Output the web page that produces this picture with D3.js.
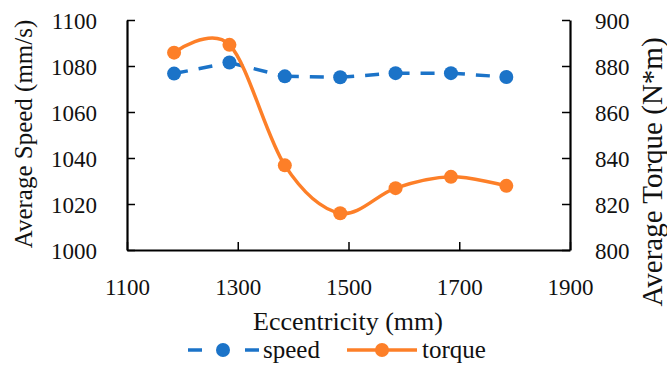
<!DOCTYPE html>
<html>
<head>
<meta charset="utf-8">
<script src="https://cdn.jsdelivr.net/npm/d3@7"></script>
<style>
  body { margin: 0; background: #fff; }
  svg { display: block; }
  svg text { font-family: 'Liberation Serif', 'DejaVu Serif', serif !important; fill: #111; }
</style>
</head>
<body>
<svg id="chart"></svg>
<script>
const eccentricity = [1185, 1285, 1385, 1485, 1585, 1685, 1785];
const speed = [1076.7, 1081.5, 1075.5, 1075.1, 1076.9, 1076.9, 1075.2];
const torque = [885.8, 889.2, 836.8, 816.0, 826.9, 831.8, 827.9];
const xTicks = [1100, 1300, 1500, 1700, 1900];
const speedTicks = [1000, 1020, 1040, 1060, 1080, 1100];
const torqueTicks = [800, 820, 840, 860, 880, 900];

const width = 667;
const height = 365;
const blue = '#1b73c8';
const orange = '#fd7f28';

const svg = d3.select('#chart')
  .attr('width', width)
  .attr('height', height);

const x = d3.scaleLinear().domain([1100, 1900]).range([127, 570]);
const ySpeed = d3.scaleLinear().domain([1000, 1100]).range([250, 20]);
const yTorque = d3.scaleLinear().domain([800, 900]).range([250, 20]);
const fmt = d3.format('d');

// axes, ticks pointing into the plot
const axisX = d3.axisBottom(x).tickValues(xTicks).tickFormat(fmt).tickSizeInner(-8).tickSizeOuter(0);
const axisL = d3.axisLeft(ySpeed).tickValues(speedTicks).tickFormat(fmt).tickSizeInner(-8).tickSizeOuter(0);
const axisR = d3.axisRight(yTorque).tickValues(torqueTicks).tickFormat(fmt).tickSizeInner(-8).tickSizeOuter(0);

function styleAxis(g) {
  g.attr('font-family', null);
  g.select('.domain').attr('stroke', '#000').attr('stroke-width', 2.2);
  g.selectAll('.tick line').attr('stroke', '#000').attr('stroke-width', 1.5);
  g.selectAll('.tick text').style('font-size', '23px').attr('fill', '#111');
}

svg.append('g').attr('transform', 'translate(0,250)').call(axisX).call(styleAxis)
  .selectAll('.tick text').attr('y', 45).attr('dy', 0);
svg.append('g').attr('transform', 'translate(127,0)').call(axisL).call(styleAxis)
  .selectAll('.tick text').attr('x', -30).attr('text-anchor', 'end').attr('dy', '0.35em');
svg.append('g').attr('transform', 'translate(570,0)').call(axisR).call(styleAxis)
  .selectAll('.tick text').attr('x', 25).attr('text-anchor', 'start').attr('dy', '0.35em');

// speed: dashed, pattern restarting at each point
const speedPts = eccentricity.map((e, i) => [x(e), ySpeed(speed[i])]);
const segLine = d3.line();
svg.append('g').selectAll('path')
  .data(d3.pairs(speedPts))
  .enter()
  .append('path')
  .attr('d', d => segLine(d))
  .attr('fill', 'none')
  .attr('stroke', blue)
  .attr('stroke-width', 3.5)
  .attr('stroke-dasharray', '14,11');
svg.append('g').selectAll('circle')
  .data(speedPts)
  .enter()
  .append('circle')
  .attr('cx', d => d[0])
  .attr('cy', d => d[1])
  .attr('r', 7)
  .attr('fill', blue);

// torque: smoothed line
const torquePts = eccentricity.map((e, i) => [x(e), yTorque(torque[i])]);
const smooth = d3.line().curve(d3.curveCatmullRom.alpha(0));
svg.append('path')
  .attr('d', smooth(torquePts))
  .attr('fill', 'none')
  .attr('stroke', orange)
  .attr('stroke-width', 3.5);
svg.append('g').selectAll('circle')
  .data(torquePts)
  .enter()
  .append('circle')
  .attr('cx', d => d[0])
  .attr('cy', d => d[1])
  .attr('r', 7)
  .attr('fill', orange);

// titles
svg.append('text')
  .attr('x', 348).attr('y', 330)
  .attr('text-anchor', 'middle')
  .style('font-size', '26px')
  .text('Eccentricity (mm)');
svg.append('text')
  .attr('transform', 'translate(32,134) rotate(-90)')
  .attr('text-anchor', 'middle')
  .style('font-size', '25px')
  .text('Average Speed (mm/s)');
svg.append('text')
  .attr('transform', 'translate(662,172) rotate(-90)')
  .attr('text-anchor', 'middle')
  .style('font-size', '29px')
  .text('Average Torque (N*m)');

// legend
const lg = svg.append('g');
lg.append('line').attr('x1', 188).attr('x2', 202).attr('y1', 350).attr('y2', 350)
  .attr('stroke', blue).attr('stroke-width', 3.5);
lg.append('line').attr('x1', 245).attr('x2', 259).attr('y1', 350).attr('y2', 350)
  .attr('stroke', blue).attr('stroke-width', 3.5);
lg.append('circle').attr('cx', 223).attr('cy', 350).attr('r', 7).attr('fill', blue);
lg.append('text').attr('x', 263).attr('y', 358).style('font-size', '25px').text('speed');
lg.append('line').attr('x1', 347).attr('x2', 417).attr('y1', 350).attr('y2', 350)
  .attr('stroke', orange).attr('stroke-width', 3.5);
lg.append('circle').attr('cx', 382).attr('cy', 350).attr('r', 7).attr('fill', orange);
lg.append('text').attr('x', 422).attr('y', 358).style('font-size', '25px').text('torque');
</script>
</body>
</html>
